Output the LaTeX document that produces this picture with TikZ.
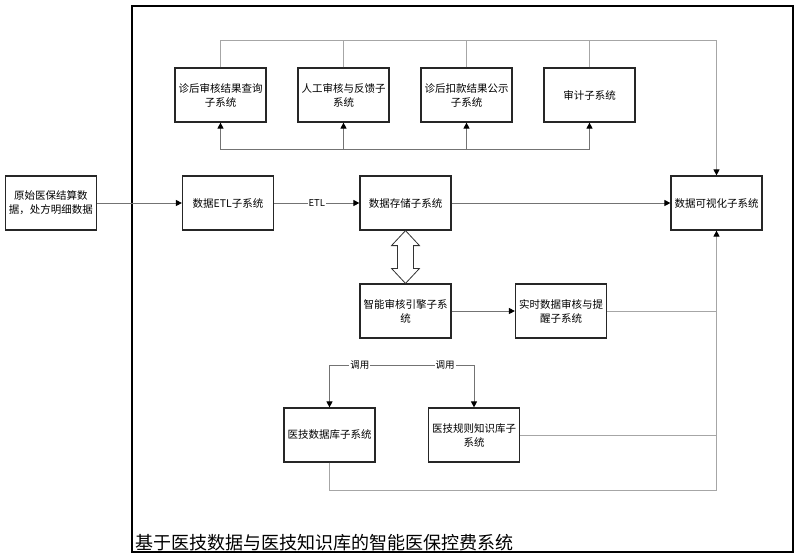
\documentclass[tikz,border=0pt]{standalone}
\usepackage{fontspec}
\setmainfont{Noto Sans CJK SC}
\usetikzlibrary{calc}
\usetikzlibrary{arrows.meta}

\begin{document}
\begin{tikzpicture}[x=1pt, y=-1pt,
  >={Triangle[length=6pt,width=6pt,color=black]},
  sysbox/.style={draw=black!85, line width=1.2pt, minimum width=91pt, minimum height=54pt,
    align=center, inner sep=2pt, font=\fontsize{10.5}{14}\selectfont},
  link/.style={draw=black!55, line width=0.9pt},
  bus/.style={draw=black!35, line width=0.9pt},
  tag/.style={fill=white, inner sep=1pt, font=\fontsize{9.5}{11}\selectfont}]
  \useasboundingbox (0,0) rectangle (800,558);

  % Outer frame and its caption
  \draw[line width=2pt] (132,6) rectangle (793,552);
  \node[anchor=south west, inner sep=0, font=\fontsize{18}{20}\selectfont] (title) at (135,551)
    {基于医技数据与医技知识库的智能医保控费系统};

  % Main flow row
  \node[sysbox] (raw)   at (51,203)    {原始医保结算数\\据，处方明细数据};
  \node[sysbox] (etl)   at (228,203)   {数据ETL子系统};
  \node[sysbox] (store) at (405.5,203) {数据存储子系统};
  \node[sysbox] (vis)   at (716.5,203) {数据可视化子系统};

  % Top row of subsystems
  \node[sysbox] (query)   at (220.5,95) {诊后审核结果查询\\子系统};
  \node[sysbox] (manual)  at (343.5,95) {人工审核与反馈子\\系统};
  \node[sysbox] (publish) at (466.5,95) {诊后扣款结果公示\\子系统};
  \node[sysbox] (audit)   at (589.5,95) {审计子系统};

  % Audit engine and knowledge bases
  \node[sysbox] (engine)   at (405.5,311) {智能审核引擎子系\\统};
  \node[sysbox] (realtime) at (561,311)   {实时数据审核与提\\醒子系统};
  \node[sysbox] (medb)     at (329.5,435) {医技数据库子系统};
  \node[sysbox] (rulekb)   at (474,435)   {医技规则知识库子\\系统};

  % Bus points (define key points first)
  \coordinate (topR)  at (vis.north |- 0,40);   % top bus, right end
  \coordinate (botR)  at (vis.south |- 0,490);  % bottom return line, right end
  \coordinate (callL) at (medb.north |- 0,365); % call line, left end
  \coordinate (callR) at (rulekb.north |- 0,365);% call line, right end

  % Main flow arrows
  \draw[link,->] (raw) -- (etl);
  \draw[link,->] (etl) -- node[tag] {ETL} (store);
  \draw[link,->] (store) -- (vis);
  \draw[link,->] (engine) -- (realtime);

  % Top bus into the visualisation box
  \draw[bus] (query.north) |- (topR);
  \draw[bus] (manual.north) -- (manual.north |- topR);
  \draw[bus] (publish.north) -- (publish.north |- topR);
  \draw[bus] (audit.north) -- (audit.north |- topR);
  \draw[bus,->] (topR) -- (vis.north);

  % Bottom bus feeding the top row
  \draw[link] ($(query.south)+(0,27)$) -- ($(audit.south)+(0,27)$);
  \foreach \s in {query,manual,publish,audit}
    \draw[link,->] ($(\s.south)+(0,27)$) -- (\s.south);

  % Double arrow between storage and engine
  \draw[black!80, line width=0.8pt] (store.south)
    -- ($(store.south)+(14,15)$) -- ($(store.south)+(8,15)$)
    -- ($(engine.north)+(8,-15)$) -- ($(engine.north)+(14,-15)$)
    -- (engine.north)
    -- ($(engine.north)+(-14,-15)$) -- ($(engine.north)+(-8,-15)$)
    -- ($(store.south)+(-8,15)$) -- ($(store.south)+(-14,15)$) -- cycle;

  % Return lines into the visualisation box
  \draw[bus] (realtime.east) -- (realtime.east -| vis.south);
  \draw[bus] (rulekb.east) -- (rulekb.east -| vis.south);
  \draw[bus] (medb.south) |- (botR);
  \draw[bus,->] (botR) -- (vis.south);

  % Call line into both knowledge bases
  \draw[link] (callL) -- node[tag,pos=0.21] {调用} node[tag,pos=0.8] {调用} (callR);
  \draw[link,->] (callL) -- (medb.north);
  \draw[link,->] (callR) -- (rulekb.north);
\end{tikzpicture}
\end{document}
